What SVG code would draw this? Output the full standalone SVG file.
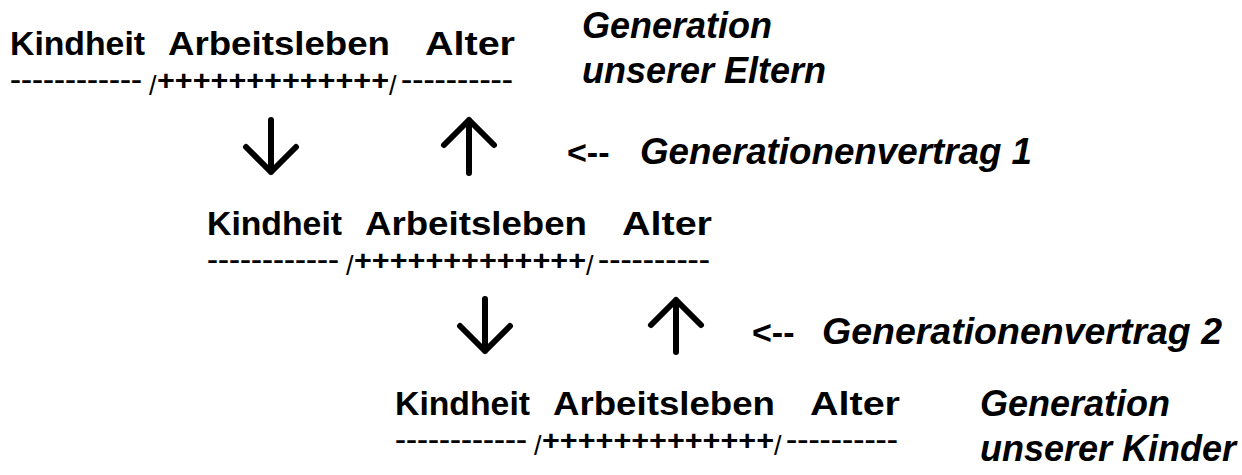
<svg xmlns="http://www.w3.org/2000/svg" width="1242" height="475" viewBox="0 0 1242 475">
  <style>
    text { font-family: "Liberation Sans", Arial, Helvetica, sans-serif; font-weight: bold; fill: #000; }
    .word { font-size: 34px; }
    .rule { font-size: 24px; }
    .plus { font-size: 27px; }
    .slash { font-size: 27px; font-weight: normal; }
    .lbl { font-size: 36px; font-style: italic; }
    .ptr { font-size: 34px; }
    .arrow { fill: none; stroke: #000; stroke-width: 6; stroke-linecap: round; stroke-linejoin: round; }
  </style>
  <defs>
    <!-- one life course: three phases over a typed timeline -->
    <g id="lifeline">
      <text class="word" x="10" y="55" textLength="135" lengthAdjust="spacingAndGlyphs">Kindheit</text>
      <text class="word" x="168" y="55" textLength="222" lengthAdjust="spacingAndGlyphs">Arbeitsleben</text>
      <text class="word" x="425" y="55" textLength="90" lengthAdjust="spacingAndGlyphs">Alter</text>
      <text class="rule" x="10" y="88" textLength="132" lengthAdjust="spacingAndGlyphs">------------</text>
      <text class="slash" x="149" y="95">/</text>
      <text class="plus" x="157" y="90" textLength="232" lengthAdjust="spacingAndGlyphs">+++++++++++++</text>
      <text class="slash" x="389" y="95">/</text>
      <text class="rule" x="401" y="88" textLength="112" lengthAdjust="spacingAndGlyphs">----------</text>
    </g>
  </defs>

  <g id="gen-parents">
    <use href="#lifeline"/>
    <text class="lbl" x="582" y="38">Generation</text>
    <text class="lbl" x="582" y="83">unserer Eltern</text>
  </g>

  <g id="gen-ours">
    <use href="#lifeline" transform="translate(197,180)"/>
  </g>

  <g id="gen-children">
    <use href="#lifeline" transform="translate(385,360)"/>
    <text class="lbl" x="980" y="416">Generation</text>
    <text class="lbl" x="980" y="461">unserer Kinder</text>
  </g>

  <g id="contract-1">
    <text class="ptr" x="567" y="164">&lt;--</text>
    <text class="lbl" x="640" y="164" textLength="392" lengthAdjust="spacingAndGlyphs">Generationenvertrag 1</text>
  </g>

  <g id="contract-2">
    <text class="ptr" x="752" y="344">&lt;--</text>
    <text class="lbl" x="822" y="344" textLength="400" lengthAdjust="spacingAndGlyphs">Generationenvertrag 2</text>
  </g>

  <g id="connectors">
    <path class="arrow" d="M271 120 V172 M246 147 L271 172 L296 147"/>
    <path class="arrow" d="M469 173 V120 M444 145 L469 120 L494 145"/>
    <path class="arrow" d="M485 299 V351 M460 326 L485 351 L510 326"/>
    <path class="arrow" d="M676 352 V300 M651 325 L676 300 L701 325"/>
  </g>
</svg>
